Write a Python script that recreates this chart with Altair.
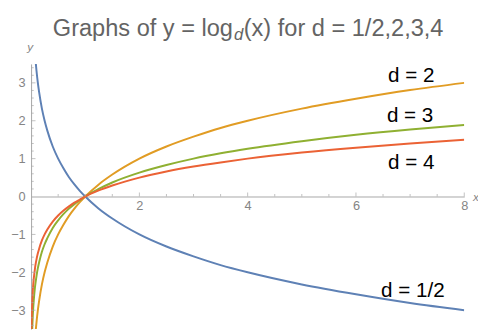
import altair as alt
import pandas as pd

# ---- data ----
xs = [0.003, 0.005, 0.0075, 0.01, 0.015, 0.02, 0.03, 0.04, 0.05, 0.07, 0.08, 0.1,
      0.125, 0.15, 0.2, 0.25, 0.3, 0.4, 0.5, 0.6, 0.7, 0.8, 0.9, 1, 1.25, 1.5,
      2, 2.5, 3, 3.5, 4, 5, 6, 7, 8]
y_2 = [-8.38, -7.64, -7.06, -6.64, -6.06, -5.64, -5.06, -4.64, -4.32, -3.84, -3.64, -3.32,
       -3.00, -2.74, -2.32, -2.00, -1.74, -1.32, -1.00, -0.74, -0.51, -0.32, -0.15, 0, 0.32, 0.58,
       1.00, 1.32, 1.58, 1.81, 2.00, 2.32, 2.58, 2.81, 3.00]
y_half = [8.38, 7.64, 7.06, 6.64, 6.06, 5.64, 5.06, 4.64, 4.32, 3.84, 3.64, 3.32,
          3.00, 2.74, 2.32, 2.00, 1.74, 1.32, 1.00, 0.74, 0.51, 0.32, 0.15, 0, -0.32, -0.58,
          -1.00, -1.32, -1.58, -1.81, -2.00, -2.32, -2.58, -2.81, -3.00]
y_3 = [-5.29, -4.82, -4.45, -4.19, -3.82, -3.56, -3.19, -2.93, -2.73, -2.42, -2.30, -2.10,
       -1.89, -1.73, -1.46, -1.26, -1.10, -0.83, -0.63, -0.46, -0.32, -0.20, -0.10, 0, 0.20, 0.37,
       0.63, 0.83, 1.00, 1.14, 1.26, 1.46, 1.63, 1.77, 1.89]
y_4 = [-4.19, -3.82, -3.53, -3.32, -3.03, -2.82, -2.53, -2.32, -2.16, -1.92, -1.82, -1.66,
       -1.50, -1.37, -1.16, -1.00, -0.87, -0.66, -0.50, -0.37, -0.26, -0.16, -0.08, 0, 0.16, 0.29,
       0.50, 0.66, 0.79, 0.90, 1.00, 1.16, 1.29, 1.40, 1.50]

series_names = ["1/2", "2", "3", "4"]
series_colors = ["#5E81B5", "#E19C24", "#8FB032", "#EB6235"]

label_text = ["d = 2", "d = 3", "d = 4", "d = 1/2"]
label_x = [7.02, 7.0, 7.02, 7.05]
label_y = [3.03, 1.96, 0.72, -2.64]

x_labels = [2, 4, 6, 8]
y_labels = [-3, -2, -1, 0, 1, 2, 3]
x_major = [2, 4, 6, 8]
x_minor = [0.5, 1, 1.5, 2.5, 3, 3.5, 4.5, 5, 5.5, 6.5, 7, 7.5]
y_major = [-3, -2, -1, 1, 2, 3]
y_minor = [-3.4, -3.2, -2.8, -2.6, -2.4, -2.2, -1.8, -1.6, -1.4, -1.2, -0.8, -0.6, -0.4, -0.2,
           0.2, 0.4, 0.6, 0.8, 1.2, 1.4, 1.6, 1.8, 2.2, 2.4, 2.6, 2.8, 3.2, 3.4]

title_parts = ["Graphs of y = log", "d", "(x) for d = 1/2,2,3,4"]

# ---- build tables ----
rows = []
for name, ys in zip(series_names, [y_half, y_2, y_3, y_4]):
    for x, y in zip(xs, ys):
        rows.append({"x": x, "y": y, "d": name})
curves = pd.DataFrame(rows)
labels = pd.DataFrame({"text": label_text, "x": label_x, "y": label_y})

FONT = "Liberation Sans"
AX = "#a6a6a6"
LAB = "#858585"

xscale = alt.Scale(domain=[0, 8], nice=False, zero=False)
yscale = alt.Scale(domain=[-3.5, 3.5], nice=False, zero=False)

XA = alt.Axis(values=x_labels, title=None, grid=False, ticks=False, tickSize=0,
              offset=-135, labelPadding=3, labelColor=LAB, labelFontSize=13,
              labelFont=FONT, domainColor=AX, labelFlush=False, format="d")
YA = alt.Axis(values=y_labels, title=None, grid=False, ticks=False, tickSize=0,
              labelPadding=6, labelColor=LAB, labelFontSize=13, labelFont=FONT,
              domainColor=AX, labelFlush=False, format="d")

lines = alt.Chart(curves).mark_line(clip=True, strokeWidth=2, interpolate="monotone").encode(
    x=alt.X("x:Q", scale=xscale, axis=XA),
    y=alt.Y("y:Q", scale=yscale, axis=YA),
    color=alt.Color("d:N", scale=alt.Scale(domain=series_names, range=series_colors), legend=None),
    detail="d:N",
)

def xticks(vals, size):
    return alt.Chart(pd.DataFrame({"t": vals})).mark_tick(
        orient="vertical", size=size, thickness=1, yOffset=-size / 2, color=AX
    ).encode(x=alt.X("t:Q", scale=xscale, axis=XA),
             y=alt.YDatum(0, scale=yscale, axis=YA))

def yticks(vals, size):
    return alt.Chart(pd.DataFrame({"t": vals})).mark_tick(
        orient="horizontal", size=size, thickness=1, xOffset=size / 2, color=AX
    ).encode(y=alt.Y("t:Q", scale=yscale, axis=YA),
             x=alt.XDatum(0, scale=xscale, axis=XA))

curve_labels = alt.Chart(labels).mark_text(
    align="center", baseline="alphabetic", fontSize=21, font=FONT, color="#000000"
).encode(x=alt.X("x:Q", scale=xscale, axis=XA),
         y=alt.Y("y:Q", scale=yscale, axis=YA),
         text="text:N")

ylab = alt.Chart(pd.DataFrame({"t": ["y"]})).mark_text(
    align="center", baseline="alphabetic", fontSize=12, fontStyle="italic", font=FONT,
    color=LAB, dy=-13, dx=-1
).encode(x=alt.XDatum(0, scale=xscale, axis=XA), y=alt.YDatum(3.5, scale=yscale, axis=YA),
         text="t:N")

xlab = alt.Chart(pd.DataFrame({"t": ["x"]})).mark_text(
    align="left", baseline="middle", fontSize=12, fontStyle="italic", font=FONT,
    color=LAB, dx=9, dy=1
).encode(x=alt.XDatum(8, scale=xscale, axis=XA), y=alt.YDatum(0, scale=yscale, axis=YA),
         text="t:N")

t1 = alt.Chart(pd.DataFrame({"t": [title_parts[0]]})).mark_text(
    align="right", baseline="alphabetic", fontSize=24, font=FONT, color="#646464"
).encode(x=alt.value(205.5), y=alt.value(-28.7), text="t:N")
t2 = alt.Chart(pd.DataFrame({"t": [title_parts[1]]})).mark_text(
    align="left", baseline="alphabetic", fontSize=17, fontStyle="italic", font=FONT, color="#646464"
).encode(x=alt.value(206.5), y=alt.value(-24.7), text="t:N")
t3 = alt.Chart(pd.DataFrame({"t": [title_parts[2]]})).mark_text(
    align="left", baseline="alphabetic", fontSize=24, font=FONT, color="#646464"
).encode(x=alt.value(216.5), y=alt.value(-28.7), text="t:N")

chart = alt.layer(
    lines,
    xticks(x_major, 4), xticks(x_minor, 2.5),
    yticks(y_major, 4.5), yticks(y_minor, 2.7),
    curve_labels, ylab, xlab, t1, t2, t3,
).properties(
    width=441, height=270,
    autosize=alt.AutoSizeParams(type="none"),
    padding={"left": 23.5, "top": 54, "right": 14, "bottom": 0},
    background="white",
).configure_view(stroke=None)

chart.save("out.html", embed_options={"renderer": "svg", "actions": False})
